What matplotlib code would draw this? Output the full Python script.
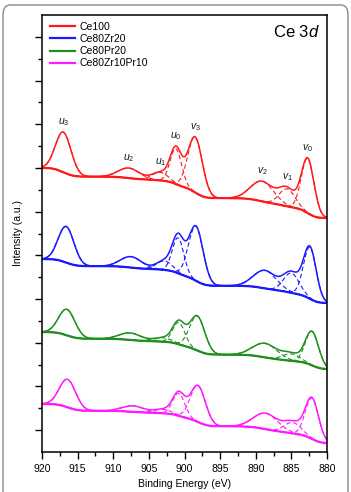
import numpy as np
import matplotlib
matplotlib.use('Agg')
import matplotlib.pyplot as plt
from matplotlib.ticker import MultipleLocator, NullFormatter
from matplotlib.patches import FancyBboxPatch

plt.rcParams['font.family'] = ['Liberation Sans', 'DejaVu Sans']
plt.rcParams['mathtext.fontset'] = 'custom'
plt.rcParams['mathtext.rm'] = 'Liberation Sans'
plt.rcParams['mathtext.it'] = 'Liberation Sans:italic'

# Ce 3d fitted components: v0, v1, v2, v3, u0, u1, u2, u3
peak_names = ['v_0', 'v_1', 'v_2', 'v_3', 'u_0', 'u_1', 'u_2', 'u_3']
samples = ['Ce100', 'Ce80Zr20', 'Ce80Pr20', 'Ce80Zr10Pr10']
colors = ['#ff1a1a', '#1a1aff', '#1f8f1f', '#ff1aff']

# peak centres (eV)
centers_ce100 = [882.7, 885.6, 889.1, 898.5, 901.2, 903.4, 907.8, 917.0]
centers_zr20 = [882.4, 885.0, 888.7, 898.4, 900.9, 902.8, 907.5, 916.6]
centers_pr20 = [882.1, 885.0, 888.7, 898.2, 900.8, 903.0, 907.6, 916.5]
centers_zr10pr10 = [882.1, 884.8, 888.6, 898.1, 900.8, 903.0, 907.2, 916.4]

# peak heights above background (a.u.)
heights_ce100 = [2.50, 0.80, 0.92, 2.54, 1.62, 0.37, 0.46, 1.83]
heights_zr20 = [2.36, 0.90, 0.82, 2.50, 1.62, 0.41, 0.50, 1.65]
heights_pr20 = [1.55, 0.32, 0.64, 1.58, 1.00, 0.18, 0.32, 1.19]
heights_zr10pr10 = [1.86, 0.50, 0.73, 1.67, 1.03, 0.18, 0.27, 1.28]

# FWHM (eV)
fwhm_ce100 = [2.1, 2.6, 3.8, 2.4, 1.9, 2.6, 3.5, 2.6]
fwhm_zr20 = [2.1, 2.6, 3.8, 2.4, 1.9, 2.6, 3.5, 2.6]
fwhm_pr20 = [2.2, 2.8, 4.0, 2.5, 2.0, 2.8, 3.6, 2.7]
fwhm_zr10pr10 = [2.2, 2.8, 4.0, 2.5, 2.0, 2.8, 3.6, 2.7]

# background level at 920 eV and 880 eV (a.u.)
bg_high = [13.00, 8.83, 5.49, 2.20]
bg_low = [10.71, 6.82, 3.80, 0.41]

centers = [centers_ce100, centers_zr20, centers_pr20, centers_zr10pr10]
heights = [heights_ce100, heights_zr20, heights_pr20, heights_zr10pr10]
fwhms = [fwhm_ce100, fwhm_zr20, fwhm_pr20, fwhm_zr10pr10]

be = np.linspace(880, 920, 801)


def gauss(x, c, h, w):
    s = w / 2.3548
    return h * np.exp(-(x - c) ** 2 / (2 * s ** 2))


fig = plt.figure(figsize=(3.51, 4.92), dpi=100)
ax = fig.add_axes([42 / 351, 1 - 452 / 492, 285 / 351, 437 / 492])

for i in range(len(samples)):
    comps = [gauss(be, c, h, w) for c, h, w in zip(centers[i], heights[i], fwhms[i])]
    total = np.sum(comps, axis=0)
    # Shirley-type background
    area = np.cumsum(total)
    bg = bg_low[i] + (bg_high[i] - bg_low[i]) * area / area[-1]
    for comp in comps:
        ax.plot(be, bg + comp, color=colors[i], lw=0.8, ls=(0, (4, 2.5)))
    ax.plot(be, bg, color=colors[i], lw=1.6)
    ax.plot(be, bg + total, color=colors[i], lw=1.1, label=samples[i])
    if i == 0:
        env = bg + total
        for name, c in zip(peak_names, centers[i]):
            yv = np.interp(c, be, env)
            ax.annotate('$' + name + '$', (c, yv), xytext=(0, 7), textcoords='offset points',
                        ha='center', va='center', fontsize=7.5, color='#1a1a1a')

ax.set_xlim(920, 880)
ax.set_ylim(0, 20)
ax.xaxis.set_major_locator(MultipleLocator(5))
ax.xaxis.set_minor_locator(MultipleLocator(2.5))
ax.set_yticks(np.arange(1, 20, 2))
ax.set_yticks(np.arange(2, 20, 2), minor=True)
ax.yaxis.set_major_formatter(NullFormatter())
ax.tick_params(direction='out', length=5, width=1, labelsize=7.5, top=False, right=False)
ax.tick_params(which='minor', direction='out', length=3, width=1, top=False, right=False)
for sp in ax.spines.values():
    sp.set_linewidth(1.1)
ax.set_xlabel('Binding Energy (eV)', fontsize=7.5, labelpad=4)
ax.set_ylabel('Intensity (a.u.)', fontsize=7.5, labelpad=5)

ax.text(0.975, 0.961, 'Ce 3$d$', transform=ax.transAxes, ha='right', va='center', fontsize=12)

leg = ax.legend(loc='upper left', bbox_to_anchor=(8 / 285, 1 - 7 / 437), frameon=False,
                fontsize=7.5, borderaxespad=0, borderpad=0, handlelength=2.4,
                handletextpad=0.4, labelspacing=0.2)
for line in leg.get_lines():
    line.set_linewidth(1.6)

frame = FancyBboxPatch((3 / 351, -0.05), 345 / 351, 1.05 - 5 / 492,
                       boxstyle='round,pad=0,rounding_size=0.02', transform=fig.transFigure,
                       fill=False, edgecolor='#888888', lw=1.0)
fig.patches.append(frame)

fig.savefig('out.png', dpi=100)
